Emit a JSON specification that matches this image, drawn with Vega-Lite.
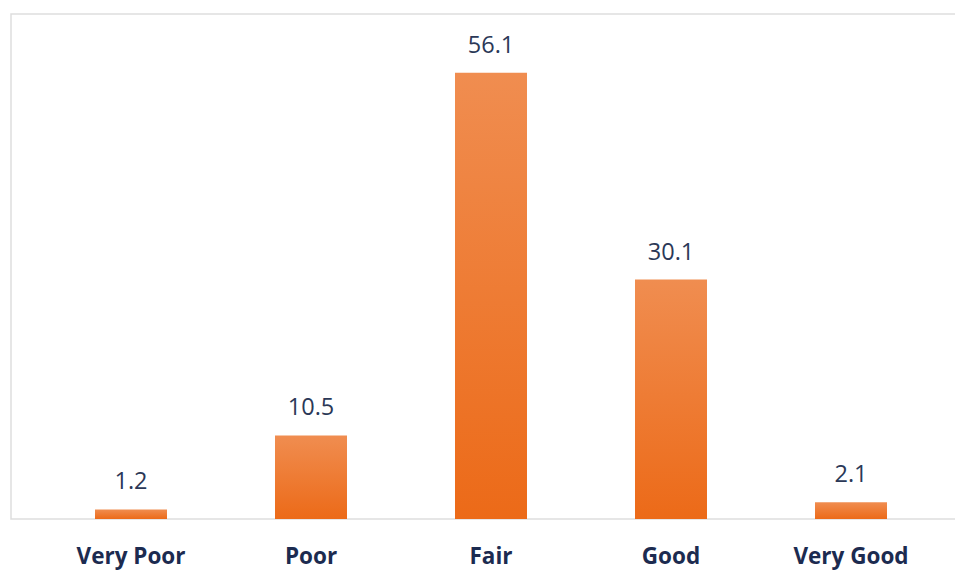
{
  "$schema": "https://vega.github.io/schema/vega-lite/v6.json",
  "width": 945,
  "height": 505,
  "autosize": {"type": "none"},
  "padding": {"left": 11, "top": 14, "right": 0, "bottom": 61},
  "background": "#ffffff",
  "config": {
    "view": {"stroke": "#dedede", "strokeWidth": 1.5},
    "font": "Open Sans"
  },
  "data": {
    "values": [
      {"rating": "Very Poor", "value": 1.2},
      {"rating": "Poor", "value": 10.5},
      {"rating": "Fair", "value": 56.1},
      {"rating": "Good", "value": 30.1},
      {"rating": "Very Good", "value": 2.1}
    ]
  },
  "encoding": {
    "x": {
      "field": "rating",
      "type": "nominal",
      "sort": null,
      "scale": {"paddingInner": 0.6, "paddingOuter": 0.425, "align": 0.549},
      "axis": {
        "title": null,
        "labelAngle": 0,
        "domain": false,
        "ticks": false,
        "labelFont": "Open Sans",
        "labelFontSize": 22.5,
        "labelFontWeight": "bold",
        "labelColor": "#1c2b50",
        "labelBaseline": "alphabetic",
        "labelPadding": 44
      }
    },
    "y": {
      "field": "value",
      "type": "quantitative",
      "scale": {"domain": [0, 63.5], "nice": false},
      "axis": null
    }
  },
  "layer": [
    {
      "mark": {
        "type": "bar",
        "color": {
          "gradient": "linear",
          "x1": 0, "y1": 0, "x2": 0, "y2": 1,
          "stops": [
            {"offset": 0, "color": "#f08d50"},
            {"offset": 1, "color": "#ec6a18"}
          ]
        }
      }
    },
    {
      "mark": {
        "type": "text",
        "baseline": "alphabetic",
        "dy": -20,
        "font": "Open Sans",
        "fontSize": 23.5,
        "color": "#2b3857"
      },
      "encoding": {"text": {"field": "value", "type": "quantitative", "format": ".1f"}}
    }
  ]
}
